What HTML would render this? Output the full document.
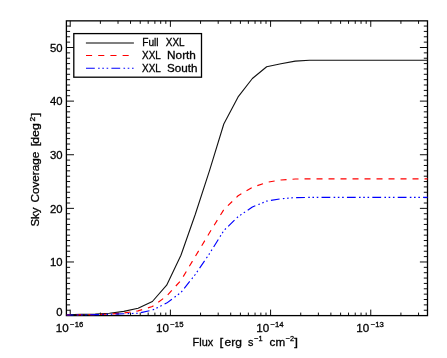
<!DOCTYPE html>
<html><head><meta charset="utf-8"><title>Sky Coverage</title>
<style>html,body{margin:0;padding:0;background:#fff;}svg{display:block;}text{font-family:"Liberation Sans",sans-serif;fill:#000;}</style>
</head><body>
<svg width="447" height="358" viewBox="0 0 447 358">
<defs><filter id="idf" x="0" y="0" width="447" height="358" filterUnits="userSpaceOnUse" color-interpolation-filters="sRGB"><feOffset dx="0" dy="0"/></filter></defs>
<rect x="0" y="0" width="447" height="358" fill="#ffffff"/>
<g filter="url(#idf)">
<path d="M70.22 315.60v-6.00M70.22 20.85v6.00M100.38 315.60v-3.00M100.38 20.85v3.00M118.02 315.60v-3.00M118.02 20.85v3.00M130.53 315.60v-3.00M130.53 20.85v3.00M140.24 315.60v-3.00M140.24 20.85v3.00M148.18 315.60v-3.00M148.18 20.85v3.00M154.88 315.60v-3.00M154.88 20.85v3.00M160.69 315.60v-3.00M160.69 20.85v3.00M165.82 315.60v-3.00M165.82 20.85v3.00M170.40 315.60v-6.00M170.40 20.85v6.00M200.56 315.60v-3.00M200.56 20.85v3.00M218.20 315.60v-3.00M218.20 20.85v3.00M230.71 315.60v-3.00M230.71 20.85v3.00M240.42 315.60v-3.00M240.42 20.85v3.00M248.36 315.60v-3.00M248.36 20.85v3.00M255.06 315.60v-3.00M255.06 20.85v3.00M260.87 315.60v-3.00M260.87 20.85v3.00M266.00 315.60v-3.00M266.00 20.85v3.00M270.58 315.60v-6.00M270.58 20.85v6.00M300.74 315.60v-3.00M300.74 20.85v3.00M318.38 315.60v-3.00M318.38 20.85v3.00M330.89 315.60v-3.00M330.89 20.85v3.00M340.60 315.60v-3.00M340.60 20.85v3.00M348.54 315.60v-3.00M348.54 20.85v3.00M355.24 315.60v-3.00M355.24 20.85v3.00M361.05 315.60v-3.00M361.05 20.85v3.00M366.18 315.60v-3.00M366.18 20.85v3.00M370.76 315.60v-6.00M370.76 20.85v6.00M400.92 315.60v-3.00M400.92 20.85v3.00M418.56 315.60v-3.00M418.56 20.85v3.00M66.40 310.24h3.70M427.50 310.24h-3.70M66.40 304.88h3.70M427.50 304.88h-3.70M66.40 299.51h3.70M427.50 299.51h-3.70M66.40 294.15h3.70M427.50 294.15h-3.70M66.40 288.79h3.70M427.50 288.79h-3.70M66.40 283.43h3.70M427.50 283.43h-3.70M66.40 278.07h3.70M427.50 278.07h-3.70M66.40 272.70h3.70M427.50 272.70h-3.70M66.40 267.34h3.70M427.50 267.34h-3.70M66.40 261.98h7.60M427.50 261.98h-7.60M66.40 256.62h3.70M427.50 256.62h-3.70M66.40 251.26h3.70M427.50 251.26h-3.70M66.40 245.89h3.70M427.50 245.89h-3.70M66.40 240.53h3.70M427.50 240.53h-3.70M66.40 235.17h3.70M427.50 235.17h-3.70M66.40 229.81h3.70M427.50 229.81h-3.70M66.40 224.45h3.70M427.50 224.45h-3.70M66.40 219.08h3.70M427.50 219.08h-3.70M66.40 213.72h3.70M427.50 213.72h-3.70M66.40 208.36h7.60M427.50 208.36h-7.60M66.40 203.00h3.70M427.50 203.00h-3.70M66.40 197.64h3.70M427.50 197.64h-3.70M66.40 192.27h3.70M427.50 192.27h-3.70M66.40 186.91h3.70M427.50 186.91h-3.70M66.40 181.55h3.70M427.50 181.55h-3.70M66.40 176.19h3.70M427.50 176.19h-3.70M66.40 170.83h3.70M427.50 170.83h-3.70M66.40 165.46h3.70M427.50 165.46h-3.70M66.40 160.10h3.70M427.50 160.10h-3.70M66.40 154.74h7.60M427.50 154.74h-7.60M66.40 149.38h3.70M427.50 149.38h-3.70M66.40 144.02h3.70M427.50 144.02h-3.70M66.40 138.65h3.70M427.50 138.65h-3.70M66.40 133.29h3.70M427.50 133.29h-3.70M66.40 127.93h3.70M427.50 127.93h-3.70M66.40 122.57h3.70M427.50 122.57h-3.70M66.40 117.21h3.70M427.50 117.21h-3.70M66.40 111.84h3.70M427.50 111.84h-3.70M66.40 106.48h3.70M427.50 106.48h-3.70M66.40 101.12h7.60M427.50 101.12h-7.60M66.40 95.76h3.70M427.50 95.76h-3.70M66.40 90.40h3.70M427.50 90.40h-3.70M66.40 85.03h3.70M427.50 85.03h-3.70M66.40 79.67h3.70M427.50 79.67h-3.70M66.40 74.31h3.70M427.50 74.31h-3.70M66.40 68.95h3.70M427.50 68.95h-3.70M66.40 63.59h3.70M427.50 63.59h-3.70M66.40 58.22h3.70M427.50 58.22h-3.70M66.40 52.86h3.70M427.50 52.86h-3.70M66.40 47.50h7.60M427.50 47.50h-7.60M66.40 42.14h3.70M427.50 42.14h-3.70M66.40 36.78h3.70M427.50 36.78h-3.70M66.40 31.41h3.70M427.50 31.41h-3.70M66.40 26.05h3.70M427.50 26.05h-3.70" stroke="#000" stroke-width="0.95" fill="none"/>
<rect x="66.4" y="20.85" width="361.10" height="294.75" fill="none" stroke="#000" stroke-width="1.3"/>
<path d="M66.66 314.83L80.94 314.40L95.23 314.02L109.51 313.22L123.80 311.40L138.09 308.24L152.37 301.49L166.66 285.21L180.94 255.22L195.23 214.53L209.51 170.61L223.80 124.03L238.09 96.93L252.37 78.51L266.66 66.73L280.94 63.78L295.23 61.11L309.51 60.30L427.50 60.30" stroke="#111" stroke-width="1.1" fill="none" stroke-linejoin="round"/>
<path d="M66.66 314.99L80.94 314.77L95.23 314.56L109.51 314.13L123.80 312.95L138.09 310.92L152.37 306.52L166.66 296.08L180.94 280.39L195.23 256.56L209.51 232.73L223.80 209.71L238.09 195.78L252.37 187.38L266.66 182.40L280.94 179.99L295.23 179.02L309.51 178.81L427.50 178.81" stroke="#ff0000" stroke-width="1.15" fill="none" stroke-dasharray="6 6" stroke-dashoffset="2.1" stroke-linejoin="round"/>
<path d="M66.66 315.04L80.94 314.88L95.23 314.66L109.51 314.29L123.80 313.75L138.09 313.22L152.37 310.11L166.66 303.10L180.94 292.49L195.23 274.50L209.51 253.62L223.80 230.59L238.09 216.67L252.37 207.03L266.66 201.14L280.94 198.78L295.23 197.60L309.51 197.39L427.50 197.39" stroke="#0000ff" stroke-width="1.15" fill="none" stroke-dasharray="8.8 3.3 1.6 2.6 1.6 2.7 1.6 3.2" stroke-dashoffset="1.9" stroke-linejoin="round"/>
<rect x="73.8" y="33.6" width="127.7" height="43.6" fill="#fff" stroke="#000" stroke-width="1.3"/>
<path d="M85.9 43.0H133.9" stroke="#000" stroke-width="1.15"/>
<path d="M86.0 55.5H133.9" stroke="#ff0000" stroke-width="1.15" stroke-dasharray="6.1 6.1"/>
<path d="M86.0 68.25H133.9" stroke="#0000ff" stroke-width="1.05" stroke-dasharray="8.8 3.3 1.6 2.6 1.6 2.7 1.6 3.2"/>
<text transform="translate(142.20 46.20) scale(0.909 1)" font-size="11.2" stroke="#000" stroke-width="0.3">Full</text>
<text transform="translate(165.80 46.20) scale(0.888 1)" font-size="11.2" stroke="#000" stroke-width="0.3">XXL</text>
<text transform="translate(142.00 58.70) scale(0.888 1)" font-size="11.2" stroke="#000" stroke-width="0.3">XXL</text>
<text transform="translate(167.10 58.70) scale(1.052 1)" font-size="11.2" stroke="#000" stroke-width="0.3">North</text>
<text transform="translate(142.00 71.60) scale(0.888 1)" font-size="11.2" stroke="#000" stroke-width="0.3">XXL</text>
<text transform="translate(167.10 71.60) scale(1.039 1)" font-size="11.2" stroke="#000" stroke-width="0.3">South</text>
<text transform="translate(56.32 316.40) scale(1.000 1)" font-size="11.3" stroke="#000" stroke-width="0.3">0</text>
<text transform="translate(50.03 266.28) scale(1.000 1)" font-size="11.3" stroke="#000" stroke-width="0.3">10</text>
<text transform="translate(50.03 212.66) scale(1.000 1)" font-size="11.3" stroke="#000" stroke-width="0.3">20</text>
<text transform="translate(50.03 159.04) scale(1.000 1)" font-size="11.3" stroke="#000" stroke-width="0.3">30</text>
<text transform="translate(50.03 105.42) scale(1.000 1)" font-size="11.3" stroke="#000" stroke-width="0.3">40</text>
<text transform="translate(50.03 51.80) scale(1.000 1)" font-size="11.3" stroke="#000" stroke-width="0.3">50</text>
<text transform="translate(55.82 331.80) scale(1.030 1)" font-size="11.3" stroke="#000" stroke-width="0.3">10</text>
<text transform="translate(70.12 327.30) scale(0.970 1)" font-size="8.0" stroke="#000" stroke-width="0.3">−16</text>
<text transform="translate(156.00 331.80) scale(1.030 1)" font-size="11.3" stroke="#000" stroke-width="0.3">10</text>
<text transform="translate(170.30 327.30) scale(0.970 1)" font-size="8.0" stroke="#000" stroke-width="0.3">−15</text>
<text transform="translate(256.18 331.80) scale(1.030 1)" font-size="11.3" stroke="#000" stroke-width="0.3">10</text>
<text transform="translate(270.48 327.30) scale(0.970 1)" font-size="8.0" stroke="#000" stroke-width="0.3">−14</text>
<text transform="translate(356.36 331.80) scale(1.030 1)" font-size="11.3" stroke="#000" stroke-width="0.3">10</text>
<text transform="translate(370.66 327.30) scale(0.970 1)" font-size="8.0" stroke="#000" stroke-width="0.3">−13</text>
<text transform="translate(192.60 346.00) scale(0.974 1)" font-size="11.2" stroke="#000" stroke-width="0.3">Flux</text>
<text transform="translate(219.60 346.00) scale(1.200 1)" font-size="11.2" stroke="#000" stroke-width="0.3">[</text>
<text transform="translate(224.50 346.00) scale(1.075 1)" font-size="11.2" stroke="#000" stroke-width="0.3">erg</text>
<text transform="translate(248.00 346.00) scale(0.964 1)" font-size="11.2" stroke="#000" stroke-width="0.3">s</text>
<text transform="translate(254.30 341.20) scale(0.921 1)" font-size="8.0" stroke="#000" stroke-width="0.3">−1</text>
<text transform="translate(269.60 346.00) scale(1.045 1)" font-size="11.2" stroke="#000" stroke-width="0.3">cm</text>
<text transform="translate(285.70 341.20) scale(0.921 1)" font-size="8.0" stroke="#000" stroke-width="0.3">−2</text>
<text transform="translate(294.30 346.00) scale(1.200 1)" font-size="11.2" stroke="#000" stroke-width="0.3">]</text>
<g transform="translate(39.4 0) rotate(-90)">
<text transform="translate(-226.60 0.00) scale(1.009 1)" font-size="11.3" stroke="#000" stroke-width="0.3">Sky</text>
<text transform="translate(-202.60 0.00) scale(1.041 1)" font-size="11.3" stroke="#000" stroke-width="0.3">Coverage</text>
<text transform="translate(-146.20 0.00) scale(1.200 1)" font-size="11.3" stroke="#000" stroke-width="0.3">[</text>
<text transform="translate(-143.80 0.00) scale(1.103 1)" font-size="11.3" stroke="#000" stroke-width="0.3">deg</text>
<text transform="translate(-121.50 -4.80) scale(1.050 1)" font-size="8.0" stroke="#000" stroke-width="0.3">2</text>
<text transform="translate(-116.40 0.00) scale(1.200 1)" font-size="11.3" stroke="#000" stroke-width="0.3">]</text>
</g>
</g>
</svg></body></html>
